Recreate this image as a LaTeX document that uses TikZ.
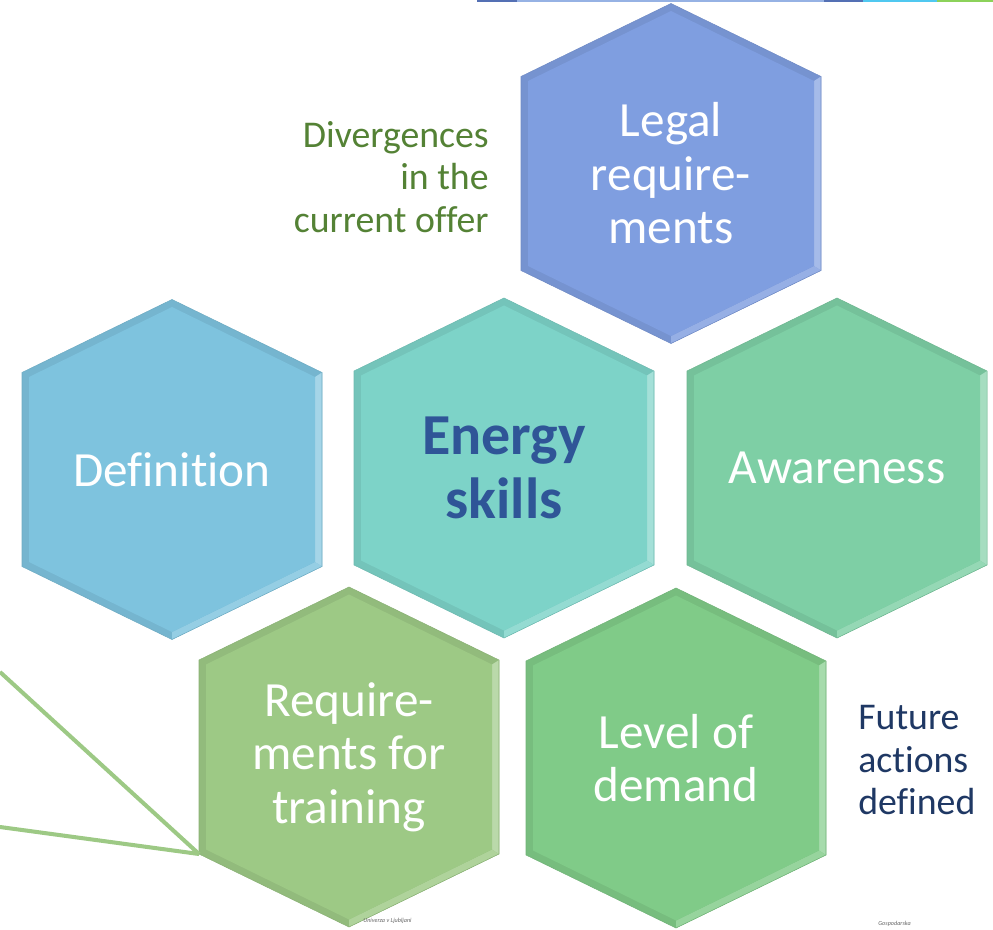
\documentclass[tikz,border=0pt]{standalone}
\usepackage{fontspec}
\setmainfont{Carlito}[Ligatures=NoCommon]
\usetikzlibrary{positioning}

\definecolor{legalblue}{RGB}{127,158,224}
\definecolor{defblue}{RGB}{126,195,222}
\definecolor{energyteal}{RGB}{125,211,200}
\definecolor{awaregreen}{RGB}{126,207,165}
\definecolor{reqgreen}{RGB}{157,201,133}
\definecolor{levelgreen}{RGB}{128,203,136}
\definecolor{skillblue}{RGB}{47,85,151}
\definecolor{offergreen}{RGB}{84,130,53}
\definecolor{futurenavy}{RGB}{31,56,100}
\definecolor{stripdark}{RGB}{84,112,180}
\definecolor{striplight}{RGB}{150,178,228}
\definecolor{stripcyan}{RGB}{80,200,240}
\definecolor{stripgreen}{RGB}{140,210,90}

% one bevelled hexagon with its label
\newcommand{\hexcell}[5][]{%
  \begin{scope}[shift={#2}]
    \fill[#3!93!black] (0,3.4) -- (3,1.94) -- (3,-1.94) -- (0,-3.4) -- (-3,-1.94) -- (-3,1.94) -- cycle;
    \fill[#3!70!white] (3,1.94) -- (3,-1.94) -- (2.86,-1.85) -- (2.86,1.85) -- cycle;
    \fill[#3!82!white] (3,-1.94) -- (0,-3.4) -- (0,-3.25) -- (2.86,-1.85) -- cycle;
    \fill[#3] (0,3.25) -- (2.86,1.85) -- (2.86,-1.85) -- (0,-3.25) -- (-2.86,-1.85) -- (-2.86,1.85) -- cycle;
    \draw[#3!88!black, line width=0.3pt] (0,3.4) -- (3,1.94) -- (3,-1.94) -- (0,-3.4) -- (-3,-1.94) -- (-3,1.94) -- cycle;
    \coordinate (#4-sw) at (-3,-1.94);
  \end{scope}
  \node[hextext, #1] (#4) at #2 {#5};
}

\begin{document}
\begin{tikzpicture}[
    hextext/.style={text=white, align=center, inner sep=0pt, font=\fontsize{28}{30.5}\selectfont},
    skilltext/.style={text=skillblue, font=\fontsize{33}{36}\selectfont\bfseries},
    sidenote/.style={inner sep=0pt, font=\fontsize{21.5}{24.2}\selectfont},
    feedline/.style={draw=reqgreen, line width=2.3pt},
    logotext/.style={text=black!60, inner sep=0pt, font=\fontsize{3.5}{4}\selectfont\itshape}
  ]
        \useasboundingbox (0,0) rectangle (19.86,-18.6);

        % Strip at the top edge
        \fill[stripdark] (9.54,0) rectangle (10.34,-0.05);
        \fill[striplight] (10.34,0) rectangle (16.48,-0.05);
        \fill[stripdark] (16.48,0) rectangle (17.26,-0.05);
        \fill[stripcyan] (17.26,0) rectangle (18.74,-0.05);
        \fill[stripgreen] (18.74,0) rectangle (19.86,-0.05);

        % Hexagons
        \hexcell{(13.42,-3.47)}{legalblue}{legal}{Legal\\require-\\ments}
        \hexcell{(3.44,-9.39)}{defblue}{defn}{Definition}
        \hexcell[skilltext]{(10.08,-9.36)}{energyteal}{energy}{Energy\\skills}
        \hexcell{(16.74,-9.36)}{awaregreen}{aware}{Awareness}
        \hexcell{(6.98,-15.14)}{reqgreen}{reqs}{Require-\\ments for\\training}
        \hexcell{(13.52,-15.16)}{levelgreen}{level}{Level of\\demand}

        % Side notes
        \node[sidenote, text=offergreen, align=right, anchor=north east] (diverge) at (9.78,-2.42) {Divergences\\in the\\current offer};
        \node[sidenote, text=futurenavy, align=left, anchor=north west] (future) at (17.16,-14.1) {Future\\actions\\defined};

        % Lines into the training hexagon
        \coordinate (ltop) at (0,-13.44);
        \coordinate (lbot) at (0,-16.54);
        \draw[feedline] (ltop) -- (reqs-sw);
        \draw[feedline] (lbot) -- (reqs-sw);

        % Cut logos at the bottom edge
        \node[logotext, anchor=west] (uni) at (7.26,-18.42) {Univerza v Ljubljani};
        \node[logotext, anchor=west] (chamber) at (17.56,-18.48) {Gospodarska};

\end{tikzpicture}
\end{document}
